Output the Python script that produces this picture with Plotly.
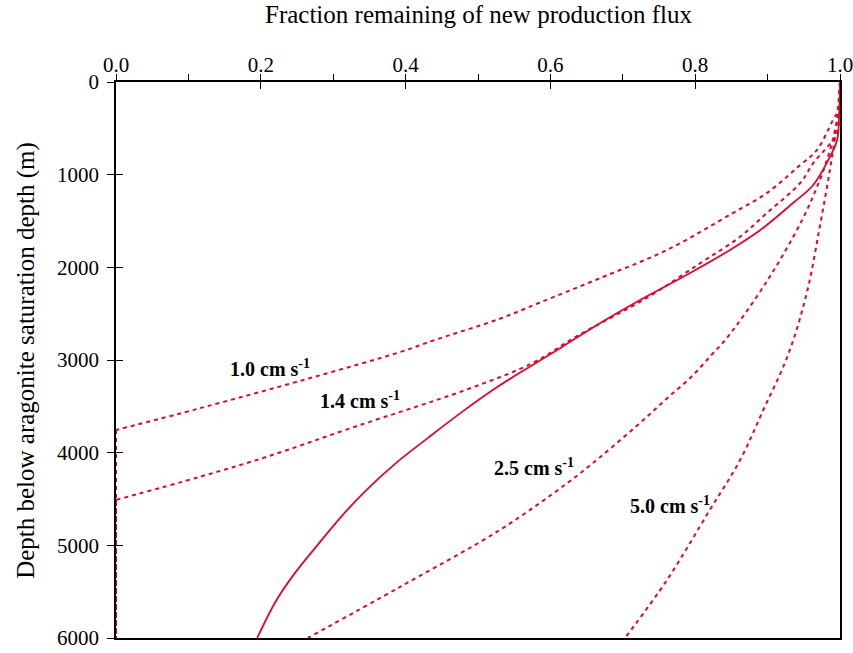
import plotly.graph_objects as go

# ---- data ----
depth_model = [0, 300, 626, 809, 1111, 1306, 1597, 1813, 2061, 2352, 2600, 2870, 3075, 3300, 3560, 3840, 4110, 4425, 4700, 5000, 5300, 5600, 6000]
frac_model = [1.0, 0.999, 0.996, 0.986, 0.963, 0.935, 0.890, 0.848, 0.793, 0.724, 0.669, 0.614, 0.571, 0.525, 0.478, 0.431, 0.387, 0.343, 0.310, 0.278, 0.247, 0.221, 0.195]

depth_v10 = [0, 300, 430, 735, 896, 1198, 1414, 1813, 2115, 2385, 2555, 2785, 2915, 3195, 3520, 3755]
frac_v10 = [1.0, 0.997, 0.989, 0.968, 0.945, 0.899, 0.852, 0.761, 0.669, 0.584, 0.530, 0.440, 0.392, 0.268, 0.116, 0.0]

depth_v14 = [0, 300, 550, 875, 1090, 1414, 1670, 1955, 2330, 2750, 3030, 3320, 3720, 4045, 4260, 4510]
frac_v14 = [1.0, 0.998, 0.996, 0.963, 0.945, 0.899, 0.862, 0.807, 0.733, 0.635, 0.576, 0.484, 0.330, 0.208, 0.116, 0.0]

depth_v25 = [0, 300, 625, 840, 1060, 1500, 2150, 2750, 2950, 3195, 3400, 3615, 4046, 4330, 4835, 5450, 6000]
frac_v25 = [1.0, 0.998, 0.990, 0.982, 0.972, 0.947, 0.899, 0.845, 0.822, 0.793, 0.763, 0.733, 0.669, 0.623, 0.530, 0.392, 0.265]

depth_v50 = [0, 485, 950, 1565, 2280, 2950, 3540, 4080, 4620, 5375, 6000]
frac_v50 = [1.0, 0.995, 0.986, 0.972, 0.954, 0.928, 0.894, 0.862, 0.820, 0.761, 0.703]

max_depth = 6000
label_text = ["1.0 cm s<sup>-1</sup>", "1.4 cm s<sup>-1</sup>", "2.5 cm s<sup>-1</sup>", "5.0 cm s<sup>-1</sup>"]
label_x = [0.213, 0.337, 0.577, 0.765]
label_y = [3085, 3430, 4155, 4565]

x_ticks = [0.0, 0.2, 0.4, 0.6, 0.8, 1.0]
x_ticklabels = ["0.0", "0.2", "0.4", "0.6", "0.8", "1.0"]
y_ticks = [0, 1000, 2000, 3000, 4000, 5000, 6000]

RED = "#e2062c"
FONT = "Liberation Serif, Times New Roman, serif"
DOT = "4px,4px"

fig = go.Figure()

def add_line(x, y, dash=None, width=1.8):
    fig.add_trace(go.Scatter(
        x=x, y=y, mode="lines",
        line=dict(color=RED, width=width, dash=dash, shape="spline", smoothing=1.0),
        showlegend=False, hoverinfo="skip"))

add_line(frac_model, depth_model, None, 1.8)
add_line(frac_v10, depth_v10, DOT, 2.0)
add_line(frac_v14, depth_v14, DOT, 2.0)
add_line(frac_v25, depth_v25, DOT, 2.0)
add_line(frac_v50, depth_v50, DOT, 2.0)

# once the flux is exhausted, the curves run down the zero axis
for fx, dy in [(frac_v10, depth_v10), (frac_v14, depth_v14)]:
    fig.add_trace(go.Scatter(
        x=[fx[-1], fx[-1]], y=[dy[-1], max_depth], mode="lines",
        line=dict(color=RED, width=2.0, dash=DOT),
        showlegend=False, hoverinfo="skip", cliponaxis=False))

# invisible traces for the tick-only overlay axes
for xa in ["x2", "x3"]:
    fig.add_trace(go.Scatter(x=[0, 1], y=[0, max_depth], xaxis=xa, yaxis="y2",
                             mode="markers", marker=dict(opacity=0), showlegend=False,
                             hoverinfo="skip"))

for t, lx, ly in zip(label_text, label_x, label_y):
    fig.add_annotation(x=lx, y=ly, text="<b>" + t + "</b>", showarrow=False,
                       font=dict(family=FONT, size=20, color="black"),
                       xanchor="center", yanchor="middle")

fig.add_annotation(text="Fraction remaining of new production flux",
                   xref="paper", yref="paper", x=0.5, y=1, yshift=68,
                   xanchor="center", yanchor="middle", showarrow=False,
                   font=dict(family=FONT, size=25, color="black"))
fig.add_annotation(text="Depth below aragonite saturation depth (m)",
                   xref="paper", yref="paper", x=-0.1245, y=0.5, textangle=-90,
                   xanchor="center", yanchor="middle", showarrow=False,
                   font=dict(family=FONT, size=25, color="black"))

tick_common = dict(range=[0, 1], side="top", tickvals=x_ticks, automargin=False,
                   showgrid=False, zeroline=False, tickcolor="black", tickwidth=1.2)

fig.update_layout(
    width=853, height=653,
    margin=dict(l=116, r=13, t=82, b=15, autoexpand=False),
    plot_bgcolor="white", paper_bgcolor="white",
    font=dict(family=FONT, color="black", size=21),
    xaxis=dict(range=[0, 1], side="top", tickvals=x_ticks, ticktext=x_ticklabels,
               ticks="", ticklabeloverflow="allow",
               showline=True, linecolor="black", linewidth=1.6, mirror=True, automargin=False,
               showgrid=False, zeroline=False, tickfont=dict(size=21, family=FONT)),
    xaxis2=dict(overlaying="x", ticks="outside", ticklen=7, showticklabels=False, showline=False,
                minor=dict(dtick=0.1, ticks="outside", ticklen=7, tickwidth=1.2, tickcolor="black"),
                **tick_common),
    xaxis3=dict(overlaying="x", ticks="inside", ticklen=7, showticklabels=False, showline=False,
                **tick_common),
    yaxis=dict(range=[max_depth, 0], tickvals=y_ticks,
               ticks="outside", ticklen=7, tickwidth=1.2, tickcolor="black", ticklabelstandoff=4,
               showline=True, linecolor="black", linewidth=1.6, mirror=True, automargin=False,
               showgrid=False, zeroline=False, tickfont=dict(size=21, family=FONT)),
    yaxis2=dict(range=[max_depth, 0], overlaying="y", side="left", tickvals=y_ticks,
                ticks="inside", ticklen=7, tickwidth=1.2, tickcolor="black", automargin=False,
                showticklabels=False, showline=False, showgrid=False, zeroline=False),
)

fig.write_html("out.html", config={"displayModeBar": False},
               post_script="document.body.style.margin='0px';document.body.style.overflow='hidden';")
